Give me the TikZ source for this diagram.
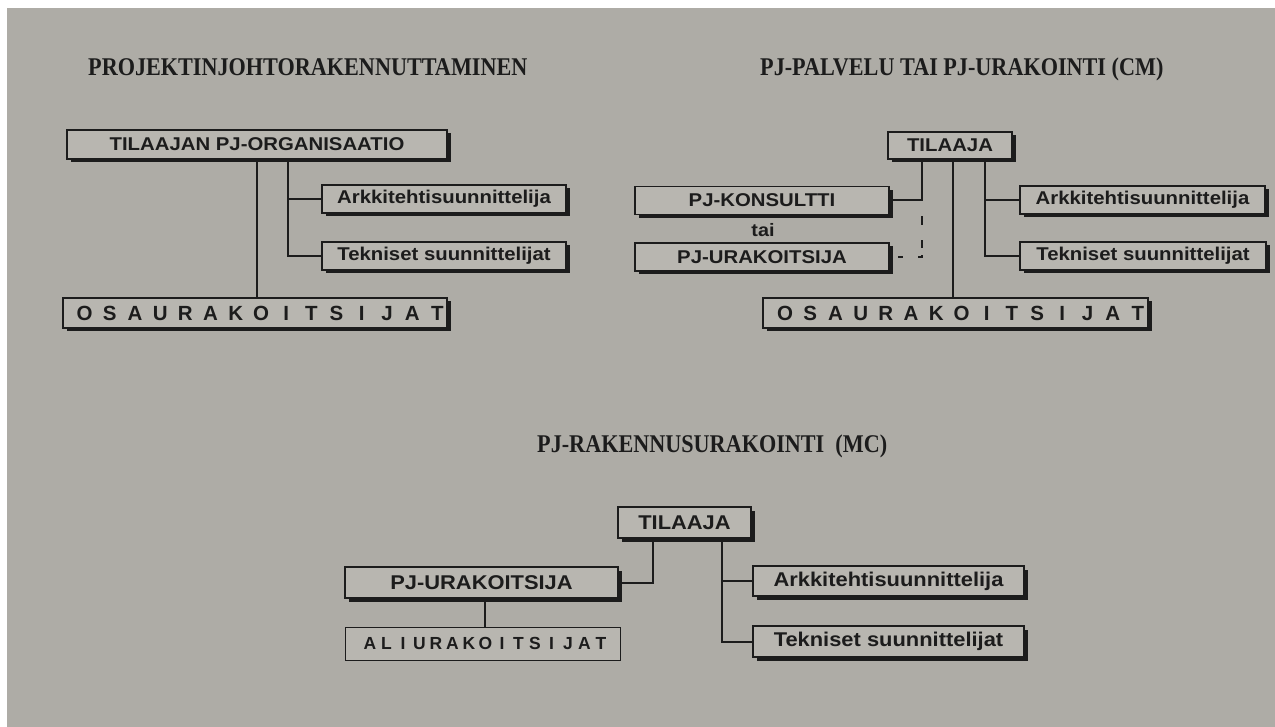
\documentclass[tikz,border=0pt]{standalone}
\usepackage{fontspec}
\setmainfont{Liberation Serif}
\setsansfont{Liberation Sans}
\usetikzlibrary{shadows}
\definecolor{bg}{HTML}{AEACA6}
\definecolor{boxfill}{HTML}{B8B6B0}
\definecolor{ink}{HTML}{1C1C1C}
\newcommand{\bt}[1]{\scalebox{1.1}[1]{#1}}
\newcommand{\hd}[1]{\scalebox{0.87}[1]{\fontsize{25.5}{28}\selectfont\rmfamily\bfseries #1}}
\newlength{\pitch}
\newcommand{\Ltr}[1]{\makebox[\pitch]{#1}}
\newcommand{\osatext}{\setlength{\pitch}{25.2pt}\makebox[0pt][c]{\kern12pt\Ltr{O}\Ltr{S}\Ltr{A}\Ltr{U}\Ltr{R}\Ltr{A}\Ltr{K}\Ltr{O}\Ltr{I}\Ltr{T}\Ltr{S}\Ltr{I}\Ltr{J}\Ltr{A}\Ltr{T}}}
\newcommand{\aliutext}{\setlength{\pitch}{16.5pt}\makebox[0pt][c]{\kern6pt\Ltr{A}\Ltr{L}\Ltr{I}\Ltr{U}\Ltr{R}\Ltr{A}\Ltr{K}\Ltr{O}\Ltr{I}\Ltr{T}\Ltr{S}\Ltr{I}\Ltr{J}\Ltr{A}\Ltr{T}}}
\begin{document}
\begin{tikzpicture}[x=1pt,y=-1pt,
  box/.style={draw=ink, line width=1.2pt, fill=boxfill, inner sep=0pt, text=ink,
    font=\sffamily\bfseries\fontsize{18.5}{20}\selectfont,
    drop shadow={shadow xshift=3.5pt, shadow yshift=-3.5pt, fill=ink, opacity=1}},
  bbox/.style={box, font=\sffamily\bfseries\fontsize{19.9}{22}\selectfont},
  osabox/.style={box, font=\sffamily\bfseries\fontsize{20.5}{22}\selectfont},
  thinbox/.style={draw=ink, line width=0.8pt, fill=boxfill, inner sep=0pt, text=ink,
    font=\sffamily\bfseries\fontsize{17.5}{19}\selectfont},
  heading/.style={anchor=base west, inner sep=0pt, text=ink},
  lbl/.style={inner sep=0pt, text=ink, font=\sffamily\bfseries\fontsize{18}{20}\selectfont},
  conn/.style={draw=ink, line width=2pt},
  dconn/.style={conn, dash pattern=on 0pt off 16pt on 9pt off 15pt on 8pt off 7pt on 6pt off 15pt on 5pt off 10pt}
]
\useasboundingbox (0,0) rectangle (1275,727);
\fill[white] (0,0) rectangle (1275,727);
\fill[bg] (7,8) rectangle (1275,727);

% headings
\node[heading] (h1) at (88,76) {\hd{PROJEKTINJOHTORAKENNUTTAMINEN}};
\node[heading] (h2) at (760,76) {\hd{PJ-PALVELU TAI PJ-URAKOINTI (CM)}};
\node[heading] (h3) at (537,452) {\hd{PJ-RAKENNUSURAKOINTI\ \ (MC)}};

% left diagram
\node[box, minimum width=380pt, minimum height=29pt] (ltop) at (257,144.5) {\bt{TILAAJAN PJ-ORGANISAATIO}};
\node[box, minimum width=244pt, minimum height=28pt] (larch) at (444,199) {\bt{Arkkitehtisuunnittelija}};
\node[box, minimum width=244pt, minimum height=28pt] (ltek) at (444,256) {\bt{Tekniset suunnittelijat}};
\node[osabox, minimum width=384pt, minimum height=30pt] (losa) at (255,313) {\osatext};

\draw[conn] (ltop.south) -- (ltop.south |- losa.north);
\draw[conn] ([xshift=31pt]ltop.south) |- (ltek.west);
\draw[conn] ([xshift=31pt]ltop.south |- larch.west) -- (larch.west);

% right diagram
\node[box, minimum width=124pt, minimum height=27pt] (rtop) at (950,145.5) {\bt{TILAAJA}};
\node[box, minimum width=254pt, minimum height=28pt] (rkon) at (762,200.5) {\bt{PJ-KONSULTTI}};
\node[lbl, anchor=base] (tai) at (763,237) {\bt{tai}};
\node[box, minimum width=254pt, minimum height=28pt] (rura) at (762,257) {\bt{PJ-URAKOITSIJA}};
\node[osabox, minimum width=385pt, minimum height=30pt] (rosa) at (955.5,313) {\osatext};
\node[box, minimum width=245pt, minimum height=28pt] (rarch) at (1142.5,200) {\bt{Arkkitehtisuunnittelija}};
\node[box, minimum width=246pt, minimum height=28pt] (rtek) at (1143,256) {\bt{Tekniset suunnittelijat}};

\draw[conn] ([xshift=-28pt]rtop.south) |- (rkon.east);
\draw[dconn] ([xshift=-28pt]rtop.south |- rkon.east) |- (rura.east);
\draw[conn] ([xshift=3pt]rtop.south) -- ([xshift=3pt]rtop.south |- rosa.north);
\draw[conn] ([xshift=35pt]rtop.south) |- (rtek.west);
\draw[conn] ([xshift=35pt]rtop.south |- rarch.west) -- (rarch.west);

% bottom diagram
\node[bbox, minimum width=133pt, minimum height=31pt] (btop) at (684.5,522.5) {\bt{TILAAJA}};
\node[bbox, minimum width=273pt, minimum height=31pt] (bura) at (481.5,582.5) {\bt{PJ-URAKOITSIJA}};
\node[thinbox, minimum width=275pt, minimum height=33pt] (bali) at (482.5,643.5) {\aliutext};
\node[bbox, minimum width=271pt, minimum height=30pt] (barch) at (888.5,581) {\bt{Arkkitehtisuunnittelija}};
\node[bbox, minimum width=271pt, minimum height=31pt] (btek) at (888.5,641.5) {\bt{Tekniset suunnittelijat}};

\draw[conn] ([xshift=-31.5pt]btop.south) |- (bura.east);
\draw[conn] ([xshift=37.5pt]btop.south) |- (btek.west);
\draw[conn] ([xshift=37.5pt]btop.south |- barch.west) -- (barch.west);
\draw[conn] ([xshift=3.5pt]bura.south) -- ([xshift=3.5pt]bura.south |- bali.north);
\end{tikzpicture}
\end{document}
